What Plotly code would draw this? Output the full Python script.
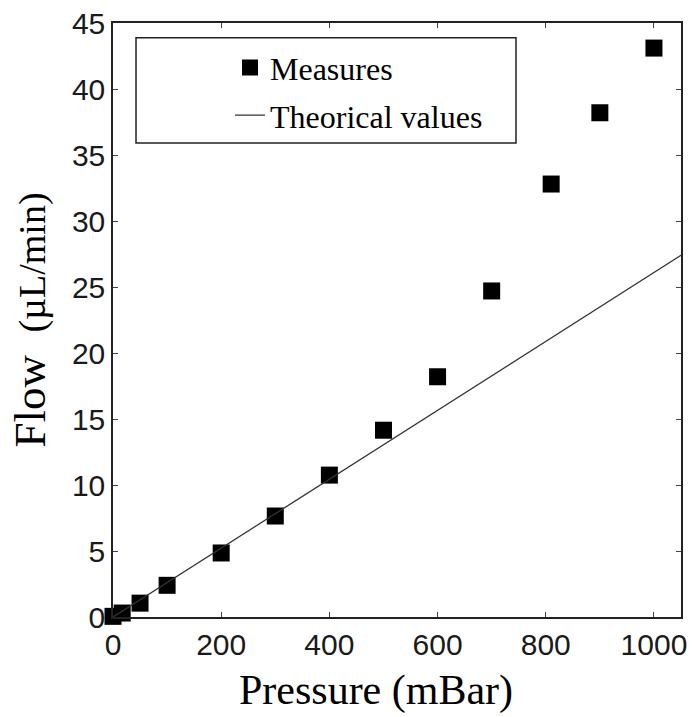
import plotly.graph_objects as go

pressure = [0, 17, 50, 100, 200, 300, 400, 500, 600, 700, 810, 900, 1000]
flow = [0.05, 0.3, 1.05, 2.4, 4.85, 7.65, 10.75, 14.15, 18.2, 24.7, 32.8, 38.2, 43.1]
theory_x = [0, 1050]
theory_y = [0, 27.4]
x_ticks = [0, 200, 400, 600, 800, 1000]
y_ticks = [0, 5, 10, 15, 20, 25, 30, 35, 40, 45]

fig = go.Figure()
fig.add_trace(go.Scatter(
    x=pressure, y=flow, mode="markers", name="Measures", legendgroup="a",
    marker=dict(symbol="square", size=17, color="black"),
    cliponaxis=False,
))
fig.add_trace(go.Scatter(
    x=theory_x, y=theory_y, mode="lines", name="Theorical values", legendgroup="b",
    line=dict(color="#333333", width=1.3),
))

axis_common = dict(
    showgrid=False, zeroline=False, showline=True, linecolor="#222222", linewidth=1.5,
    mirror="ticks", ticks="inside", ticklen=5, tickcolor="#444444", tickwidth=1.2,
    ticklabeloverflow="allow", automargin=False,
    tickfont=dict(family="Liberation Sans, Arial, sans-serif", size=30, color="#1a1a1a"),
)

fig.update_xaxes(range=[0, 1050], tickvals=x_ticks, **axis_common,
                 title=dict(text="Pressure (mBar)&nbsp;&nbsp;&nbsp;&nbsp;", standoff=15,
                            font=dict(family="Liberation Serif, Times New Roman, serif", size=42, color="black")))
fig.update_yaxes(range=[0, 45], tickvals=y_ticks, **axis_common,
                 title=dict(text="Flow  <span style='font-size:38px'>(µL/min)</span>", standoff=12,
                            font=dict(family="Liberation Serif, Times New Roman, serif", size=45, color="black")))

fig.add_shape(type="rect", xref="paper", yref="paper",
              x0=0.0405, x1=0.7095, y0=0.798, y1=0.975,
              line=dict(color="#222222", width=1.5), fillcolor="rgba(0,0,0,0)")

fig.update_layout(
    width=692, height=717,
    margin=dict(l=113, r=11, t=23, b=100),
    paper_bgcolor="white", plot_bgcolor="white",
    showlegend=True,
    legend=dict(x=0.206, y=0.971, xanchor="left", yanchor="top",
                bgcolor="rgba(0,0,0,0)", borderwidth=0, tracegroupgap=3,
                font=dict(family="Liberation Serif, Times New Roman, serif", size=32, color="black")),
)

fig.write_html("out.html", config={"displayModeBar": False},
               post_script="document.body.style.margin='0';document.body.style.overflow='hidden';")
